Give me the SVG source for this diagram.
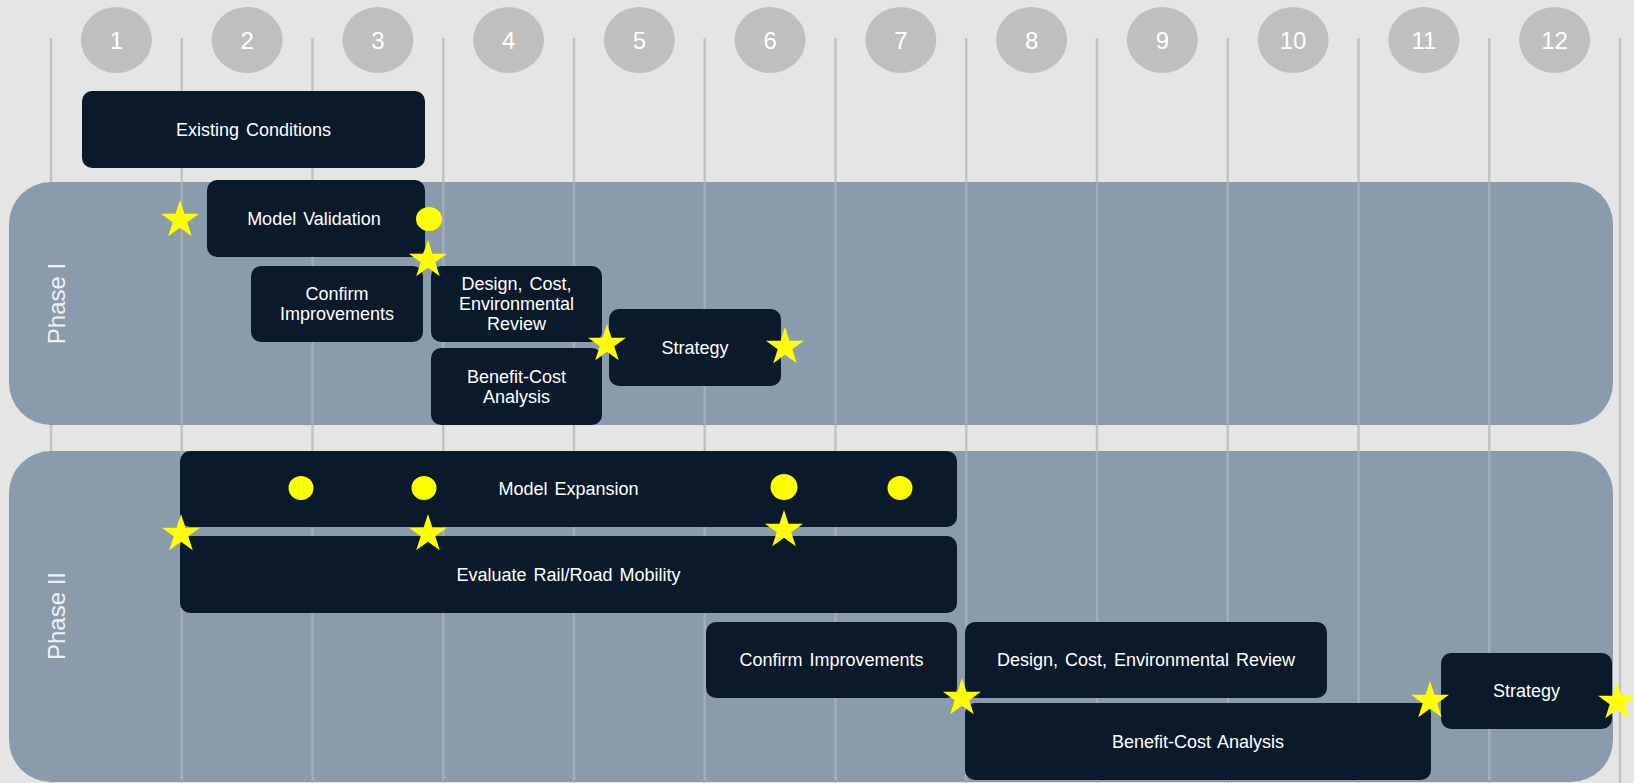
<svg xmlns="http://www.w3.org/2000/svg" width="1634" height="783" viewBox="0 0 1634 783">
<style>
.bg{fill:#e5e5e5}
.grid{stroke:#c2c2c2;stroke-width:2.5}
.gridin{stroke:#a2adb9;stroke-width:2.5}
.panel{fill:#8a9bac}
.box{fill:#0b1a2b}
.num{fill:#bfbfbf}
.numt{font-family:"Liberation Sans",Arial,sans-serif;font-size:24px;fill:#ffffff;text-anchor:middle}
.t{font-family:"Liberation Sans",Arial,sans-serif;font-size:18px;fill:#ffffff;text-anchor:middle;word-spacing:2px}
.ph{font-family:"Liberation Sans",Arial,sans-serif;font-size:24px;fill:#eef1f4;text-anchor:middle}
.dot{fill:#ffff00}
.star{fill:#ffff00}
</style>
<defs>
<polygon id="star" points="0,-20 4.5,-6.19 19.02,-6.18 7.28,2.36 11.76,16.18 0,7.65 -11.76,16.18 -7.28,2.36 -19.02,-6.18 -4.5,-6.19"/>
</defs>
<rect class="bg" x="0" y="0" width="1634" height="783"/>
<g id="gridlines">
<line class="grid" x1="51" y1="38" x2="51" y2="783"/>
<line class="grid" x1="181.75" y1="38" x2="181.75" y2="783"/>
<line class="grid" x1="312.5" y1="38" x2="312.5" y2="783"/>
<line class="grid" x1="443.25" y1="38" x2="443.25" y2="783"/>
<line class="grid" x1="574" y1="38" x2="574" y2="783"/>
<line class="grid" x1="704.75" y1="38" x2="704.75" y2="783"/>
<line class="grid" x1="835.5" y1="38" x2="835.5" y2="783"/>
<line class="grid" x1="966.25" y1="38" x2="966.25" y2="783"/>
<line class="grid" x1="1097" y1="38" x2="1097" y2="783"/>
<line class="grid" x1="1227.75" y1="38" x2="1227.75" y2="783"/>
<line class="grid" x1="1358.5" y1="38" x2="1358.5" y2="783"/>
<line class="grid" x1="1489.25" y1="38" x2="1489.25" y2="783"/>
<line class="grid" x1="1620" y1="38" x2="1620" y2="783"/>
</g>
<g id="months">
<g id="m1"><ellipse class="num" cx="116.4" cy="40" rx="35.5" ry="33"/><text class="numt" x="116.4" y="48.5">1</text></g>
<g id="m2"><ellipse class="num" cx="247.1" cy="40" rx="35.5" ry="33"/><text class="numt" x="247.1" y="48.5">2</text></g>
<g id="m3"><ellipse class="num" cx="377.9" cy="40" rx="35.5" ry="33"/><text class="numt" x="377.9" y="48.5">3</text></g>
<g id="m4"><ellipse class="num" cx="508.6" cy="40" rx="35.5" ry="33"/><text class="numt" x="508.6" y="48.5">4</text></g>
<g id="m5"><ellipse class="num" cx="639.4" cy="40" rx="35.5" ry="33"/><text class="numt" x="639.4" y="48.5">5</text></g>
<g id="m6"><ellipse class="num" cx="770.1" cy="40" rx="35.5" ry="33"/><text class="numt" x="770.1" y="48.5">6</text></g>
<g id="m7"><ellipse class="num" cx="900.9" cy="40" rx="35.5" ry="33"/><text class="numt" x="900.9" y="48.5">7</text></g>
<g id="m8"><ellipse class="num" cx="1031.6" cy="40" rx="35.5" ry="33"/><text class="numt" x="1031.6" y="48.5">8</text></g>
<g id="m9"><ellipse class="num" cx="1162.4" cy="40" rx="35.5" ry="33"/><text class="numt" x="1162.4" y="48.5">9</text></g>
<g id="m10"><ellipse class="num" cx="1293.1" cy="40" rx="35.5" ry="33"/><text class="numt" x="1293.1" y="48.5">10</text></g>
<g id="m11"><ellipse class="num" cx="1423.9" cy="40" rx="35.5" ry="33"/><text class="numt" x="1423.9" y="48.5">11</text></g>
<g id="m12"><ellipse class="num" cx="1554.6" cy="40" rx="35.5" ry="33"/><text class="numt" x="1554.6" y="48.5">12</text></g>
</g>
<g id="phase1">
<rect class="panel" x="9" y="182" width="1604" height="243" rx="42"/>
<text class="ph" transform="translate(65,303.5) rotate(-90)">Phase I</text>
</g>
<g id="phase2">
<rect class="panel" x="9" y="451" width="1604" height="331" rx="42"/>
<text class="ph" transform="translate(65,616) rotate(-90)">Phase II</text>
</g>
<g id="gridlines-in-panels">
<line class="gridin" x1="181.75" y1="182" x2="181.75" y2="425"/>
<line class="gridin" x1="312.5" y1="182" x2="312.5" y2="425"/>
<line class="gridin" x1="443.25" y1="182" x2="443.25" y2="425"/>
<line class="gridin" x1="574" y1="182" x2="574" y2="425"/>
<line class="gridin" x1="704.75" y1="182" x2="704.75" y2="425"/>
<line class="gridin" x1="835.5" y1="182" x2="835.5" y2="425"/>
<line class="gridin" x1="966.25" y1="182" x2="966.25" y2="425"/>
<line class="gridin" x1="1097" y1="182" x2="1097" y2="425"/>
<line class="gridin" x1="1227.75" y1="182" x2="1227.75" y2="425"/>
<line class="gridin" x1="1358.5" y1="182" x2="1358.5" y2="425"/>
<line class="gridin" x1="1489.25" y1="182" x2="1489.25" y2="425"/>
<line class="gridin" x1="181.75" y1="451" x2="181.75" y2="781"/>
<line class="gridin" x1="312.5" y1="451" x2="312.5" y2="781"/>
<line class="gridin" x1="443.25" y1="451" x2="443.25" y2="781"/>
<line class="gridin" x1="574" y1="451" x2="574" y2="781"/>
<line class="gridin" x1="704.75" y1="451" x2="704.75" y2="781"/>
<line class="gridin" x1="835.5" y1="451" x2="835.5" y2="781"/>
<line class="gridin" x1="966.25" y1="451" x2="966.25" y2="781"/>
<line class="gridin" x1="1097" y1="451" x2="1097" y2="781"/>
<line class="gridin" x1="1227.75" y1="451" x2="1227.75" y2="781"/>
<line class="gridin" x1="1358.5" y1="451" x2="1358.5" y2="781"/>
<line class="gridin" x1="1489.25" y1="451" x2="1489.25" y2="781"/>
</g>
<g id="existing-conditions"><rect class="box" x="82" y="91" width="343" height="77" rx="10"/><text class="t" x="253.5" y="136">Existing Conditions</text></g>
<g id="model-validation"><rect class="box" x="207" y="180" width="218" height="77" rx="10"/><text class="t" x="314" y="224.5">Model Validation</text></g>
<g id="confirm-1"><rect class="box" x="251" y="266" width="172" height="76" rx="10"/><text class="t" x="337" y="300">Confirm</text><text class="t" x="337" y="320">Improvements</text></g>
<g id="design-1"><rect class="box" x="431" y="266" width="171" height="76" rx="10"/><text class="t" x="516.5" y="290">Design, Cost,</text><text class="t" x="516.5" y="310">Environmental</text><text class="t" x="516.5" y="330">Review</text></g>
<g id="bca-1"><rect class="box" x="431" y="348" width="171" height="77" rx="10"/><text class="t" x="516.5" y="383">Benefit-Cost</text><text class="t" x="516.5" y="403">Analysis</text></g>
<g id="strategy-1"><rect class="box" x="609" y="309" width="172" height="77" rx="10"/><text class="t" x="695" y="354">Strategy</text></g>
<g id="model-expansion"><rect class="box" x="180" y="451" width="777" height="76" rx="10"/><text class="t" x="568.5" y="495">Model Expansion</text></g>
<g id="evaluate"><rect class="box" x="180" y="536" width="777" height="77" rx="10"/><text class="t" x="568.5" y="581">Evaluate Rail/Road Mobility</text></g>
<g id="confirm-2"><rect class="box" x="706" y="622" width="251" height="76" rx="10"/><text class="t" x="831.5" y="666">Confirm Improvements</text></g>
<g id="design-2"><rect class="box" x="965" y="622" width="362" height="76" rx="10"/><text class="t" x="1146" y="666">Design, Cost, Environmental Review</text></g>
<g id="bca-2"><rect class="box" x="965" y="703" width="466" height="77" rx="10"/><text class="t" x="1198" y="748">Benefit-Cost Analysis</text></g>
<g id="strategy-2"><rect class="box" x="1441" y="653" width="171" height="76" rx="10"/><text class="t" x="1526.5" y="697">Strategy</text></g>
<g id="markers">
<ellipse class="dot" cx="429" cy="219" rx="13" ry="12"/>
<ellipse class="dot" cx="301" cy="488" rx="12.5" ry="12"/>
<ellipse class="dot" cx="424" cy="488" rx="12.5" ry="12"/>
<ellipse class="dot" cx="784" cy="487" rx="13.5" ry="13"/>
<ellipse class="dot" cx="900" cy="488" rx="12.5" ry="12"/>
<use href="#star" class="star" x="180" y="220"/>
<use href="#star" class="star" x="428" y="260"/>
<use href="#star" class="star" x="607" y="344"/>
<use href="#star" class="star" x="785" y="347"/>
<use href="#star" class="star" x="181" y="534"/>
<use href="#star" class="star" x="428" y="534"/>
<use href="#star" class="star" x="784" y="530"/>
<use href="#star" class="star" x="962" y="698"/>
<use href="#star" class="star" x="1430" y="701"/>
<use href="#star" class="star" x="1617" y="702"/>
</g>
</svg>
